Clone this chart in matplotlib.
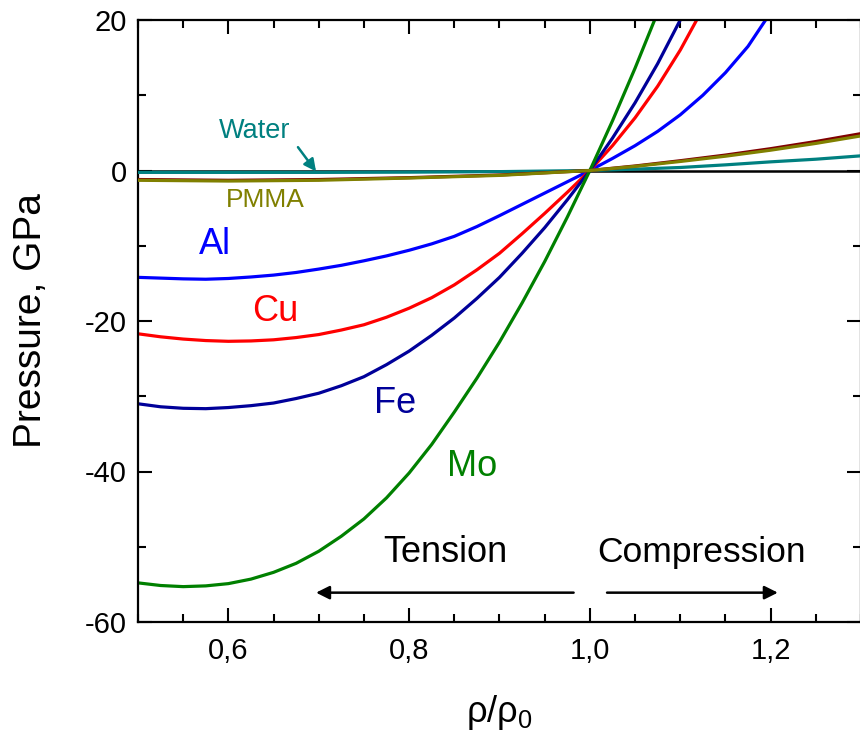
import matplotlib
matplotlib.use("Agg")
import matplotlib.pyplot as plt
from matplotlib.ticker import MultipleLocator, FixedLocator

plt.rcParams['font.family'] = ['Liberation Sans', 'DejaVu Sans']
plt.rcParams['mathtext.fontset'] = 'custom'
plt.rcParams['mathtext.rm'] = 'Liberation Sans'
plt.rcParams['mathtext.it'] = 'Liberation Sans:italic'

# ---- data ----
x_al = [0.500, 0.525, 0.550, 0.575, 0.600, 0.625, 0.650, 0.675, 0.700, 0.725, 0.750,
        0.775, 0.800, 0.825, 0.850, 0.875, 0.900, 0.925, 0.950, 0.975, 1.000,
        1.025, 1.050, 1.075, 1.100, 1.125, 1.150, 1.175, 1.200]
p_al = [-14.2, -14.3, -14.4, -14.45, -14.35, -14.15, -13.9, -13.55, -13.1, -12.6, -12.0,
        -11.35, -10.6, -9.75, -8.75, -7.45, -6.0, -4.5, -3.0, -1.5, 0.0,
        1.6, 3.3, 5.2, 7.4, 10.0, 13.0, 16.5, 21.0]

x_cu = [0.500, 0.525, 0.550, 0.575, 0.600, 0.625, 0.650, 0.675, 0.700, 0.725, 0.750,
        0.775, 0.800, 0.825, 0.850, 0.875, 0.900, 0.925, 0.950, 0.975, 1.000,
        1.025, 1.050, 1.075, 1.100, 1.125, 1.150]
p_cu = [-21.7, -22.1, -22.4, -22.6, -22.7, -22.65, -22.5, -22.2, -21.8, -21.2, -20.5,
        -19.5, -18.3, -16.9, -15.2, -13.2, -11.0, -8.4, -5.7, -2.9, 0.0,
        3.3, 7.0, 11.2, 16.0, 21.5, 27.0]

x_fe = [0.500, 0.525, 0.550, 0.575, 0.600, 0.625, 0.650, 0.675, 0.700, 0.725, 0.750,
        0.775, 0.800, 0.825, 0.850, 0.875, 0.900, 0.925, 0.950, 0.975, 1.000,
        1.025, 1.050, 1.075, 1.100, 1.125]
p_fe = [-31.0, -31.4, -31.6, -31.65, -31.5, -31.25, -30.9, -30.3, -29.6, -28.6, -27.4,
        -25.8, -24.0, -21.9, -19.6, -17.0, -14.2, -11.0, -7.6, -3.9, 0.0,
        4.3, 9.0, 14.2, 20.0, 26.5]

x_mo = [0.500, 0.525, 0.550, 0.575, 0.600, 0.625, 0.650, 0.675, 0.700, 0.725, 0.750,
        0.775, 0.800, 0.825, 0.850, 0.875, 0.900, 0.925, 0.950, 0.975, 1.000,
        1.025, 1.050, 1.075, 1.100]
p_mo = [-54.8, -55.15, -55.3, -55.2, -54.9, -54.3, -53.4, -52.2, -50.6, -48.6, -46.3,
        -43.5, -40.2, -36.4, -32.1, -27.6, -22.8, -17.6, -12.1, -6.2, 0.0,
        6.6, 13.6, 21.0, 29.0]

x_water = [0.5, 0.6, 0.7, 0.8, 0.9, 1.0, 1.05, 1.1, 1.15, 1.2, 1.25, 1.3]
p_water = [-0.25, -0.25, -0.25, -0.22, -0.15, 0.0, 0.18, 0.4, 0.75, 1.15, 1.5, 1.95]

x_pmma = [0.5, 0.6, 0.7, 0.8, 0.9, 1.0, 1.05, 1.1, 1.15, 1.2, 1.25, 1.3]
p_pmma = [-1.3, -1.4, -1.3, -1.0, -0.65, 0.0, 0.55, 1.2, 1.9, 2.7, 3.6, 4.6]

x_other = [0.5, 0.6, 0.7, 0.8, 0.9, 1.0, 1.05, 1.1, 1.15, 1.2, 1.25, 1.3]
p_other = [-1.2, -1.3, -1.2, -0.95, -0.6, 0.0, 0.6, 1.3, 2.05, 2.9, 3.85, 4.9]

xtick_vals = [0.6, 0.8, 1.0, 1.2]
xtick_labels = ['0,6', '0,8', '1,0', '1,2']
ytick_vals = [-60, -40, -20, 0, 20]
ytick_labels = ['-60', '-40', '-20', '0', '20']

# ---- figure ----
fig = plt.figure(figsize=(8.6, 7.32), dpi=100)
ax = fig.add_axes([138/860, 110/732, 723/860, 602/732])

lw = 2.3
ax.axhline(0, color='black', lw=1.8, zorder=1)
ax.plot(x_al, p_al, color='#0000FF', lw=lw, zorder=2)
ax.plot(x_cu, p_cu, color='#FF0000', lw=lw, zorder=2)
ax.plot(x_fe, p_fe, color='#000099', lw=lw, zorder=2)
ax.plot(x_mo, p_mo, color='#008000', lw=lw, zorder=2)
ax.plot(x_water, p_water, color='#008080', lw=lw, zorder=3)
ax.plot(x_other, p_other, color='#800000', lw=lw, zorder=3)
ax.plot(x_pmma, p_pmma, color='#808000', lw=lw, zorder=4)

ax.set_xlim(0.5, 1.3)
ax.set_ylim(-60, 20)

ax.xaxis.set_major_locator(FixedLocator(xtick_vals))
ax.set_xticklabels(xtick_labels)
ax.xaxis.set_minor_locator(MultipleLocator(0.05))
ax.yaxis.set_major_locator(FixedLocator(ytick_vals))
ax.set_yticklabels(ytick_labels)
ax.yaxis.set_minor_locator(MultipleLocator(10))

ax.tick_params(which='both', direction='in', top=True, right=True, width=1.5, labelsize=21)
ax.tick_params(which='major', length=10)
ax.tick_params(which='minor', length=6)
ax.tick_params(axis='x', which='major', pad=11)
ax.tick_params(axis='y', which='major', pad=8)
for s in ax.spines.values():
    s.set_linewidth(1.6)

ax.set_xlabel(r'ρ/ρ$_\mathregular{0}$', fontsize=26, labelpad=20)
ax.set_ylabel('Pressure, GPa', fontsize=28, labelpad=26)

# ---- annotations ----
ax.text(0.629, 5.2, 'Water', color='#008080', fontsize=19.5, ha='center', va='center')
ax.annotate('', xy=(0.697, -0.13), xytext=(0.677, 3.1),
            arrowprops=dict(arrowstyle='-|>', color='#008080', lw=1.8, mutation_scale=18,
                            shrinkA=0, shrinkB=0))
ax.text(0.641, -3.9, 'PMMA', color='#808000', fontsize=19, ha='center', va='center')
ax.text(0.585, -9.9, 'Al', color='#0000FF', fontsize=26, ha='center', va='center')
ax.text(0.652, -18.8, 'Cu', color='#FF0000', fontsize=26, ha='center', va='center')
ax.text(0.784, -30.9, 'Fe', color='#000099', fontsize=26, ha='center', va='center')
ax.text(0.870, -39.3, 'Mo', color='#008000', fontsize=26, ha='center', va='center')
ax.text(0.840, -50.7, 'Tension', color='black', fontsize=26, ha='center', va='center')
ax.text(1.123, -50.7, 'Compression', color='black', fontsize=25.5, ha='center', va='center')
ax.annotate('', xy=(0.697, -56.1), xytext=(0.982, -56.1),
            arrowprops=dict(arrowstyle='-|>', color='black', lw=1.8, mutation_scale=20,
                            shrinkA=0, shrinkB=0))
ax.annotate('', xy=(1.208, -56.1), xytext=(1.019, -56.1),
            arrowprops=dict(arrowstyle='-|>', color='black', lw=1.8, mutation_scale=20,
                            shrinkA=0, shrinkB=0))

fig.savefig('out.png', dpi=100)
